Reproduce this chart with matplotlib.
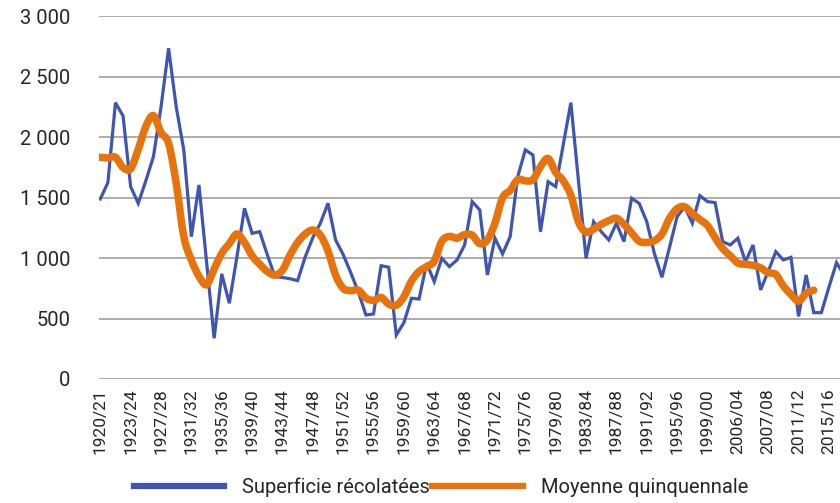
import matplotlib
matplotlib.use("Agg")
import matplotlib.pyplot as plt
import numpy as np
from matplotlib import font_manager
from matplotlib.path import Path
from matplotlib.patches import PathPatch
from matplotlib.lines import Line2D

# ---------------- data ----------------
tick_labels = ["1920/21", "1923/24", "1927/28", "1931/32", "1935/36", "1939/40",
               "1943/44", "1947/48", "1951/52", "1955/56", "1959/60", "1963/64",
               "1967/68", "1971/72", "1975/76", "1979/80", "1983/84", "1987/88",
               "1991/92", "1995/96", "1999/00", "2006/04", "2007/08", "2011/12",
               "2015/16"]

superficie = [1490, 1625, 2287, 2177, 1592, 1454, 1640, 1840, 2250, 2737,
              2254, 1896, 1178, 1606, 970, 337, 870, 627, 1010, 1413,
              1206, 1219, 1030, 847, 840, 830, 814, 1010, 1170, 1290,
              1454, 1151, 1030, 880, 720, 530, 538, 938, 925, 364,
              466, 668, 662, 958, 806, 999, 930, 985, 1109, 1468,
              1399, 861, 1165, 1035, 1178, 1675, 1896, 1854, 1219, 1633,
              1592, 1940, 2287, 1640, 999, 1302, 1219, 1151, 1289, 1137,
              1496, 1454, 1302, 1040, 842, 1090, 1343, 1426, 1289, 1517,
              1468, 1460, 1137, 1109, 1165, 971, 1109, 737, 890, 1054,
              985, 1007, 518, 861, 549, 549, 760, 963, 860]

moyenne = [1835, 1830, 1835, 1750, 1740, 1900, 2090, 2180, 2040, 1950,
           1620, 1180, 985, 850, 780, 910, 1040, 1120, 1200, 1130,
           1020, 950, 890, 860, 900, 1026, 1130, 1200, 1233, 1190,
           1060, 860, 750, 731, 735, 670, 650, 675, 620, 610,
           680, 810, 890, 930, 975, 1140, 1180, 1165, 1195, 1190,
           1120, 1150, 1290, 1500, 1560, 1650, 1640, 1650, 1757, 1825,
           1710, 1640, 1520, 1300, 1215, 1240, 1280, 1310, 1330, 1280,
           1210, 1140, 1130, 1145, 1200, 1330, 1410, 1425, 1370, 1320,
           1270, 1170, 1080, 1020, 960, 950, 940, 920, 880, 865,
           770, 700, 645, 710, 735]

y_ticks = [0, 500, 1000, 1500, 2000, 2500, 3000]
y_tick_labels = ["0", "500", "1 000", "1 500", "2 000", "2 500", "3 000"]

series_names = ["Superficie récolatées", "Moyenne quinquennale"]

# ---------------- style ----------------
names = {f.name for f in font_manager.fontManager.ttflist}
if "Liberation Sans Narrow" in names:
    fam = ["Liberation Sans Narrow", "DejaVu Sans"]
else:
    fam = ["Roboto", "DejaVu Sans"]
plt.rcParams["font.family"] = fam

BLUE = "#3F55B3"
ORANGE = "#E8720C"
GRID = "#A6A6A6"
TEXT = "#262626"

fig = plt.figure(figsize=(8.4, 5.03), dpi=100)
ax = fig.add_axes([99.3 / 840, 1 - 379 / 503, 740.7 / 840, (379 - 16.5) / 503])

x_blue = np.arange(len(superficie))
ax.plot(x_blue, superficie, color=BLUE, lw=2.3, solid_joinstyle="miter", zorder=3)

# smoothed orange line (Catmull-Rom rendered as cubic Bezier path)
xo = np.arange(len(moyenne), dtype=float)
yo = np.array(moyenne, dtype=float)
P = np.column_stack([xo, yo])
Pext = np.vstack([P[0], P, P[-1]])
verts = [tuple(P[0])]
codes = [Path.MOVETO]
for i in range(len(P) - 1):
    p0, p1, p2, p3 = Pext[i], Pext[i + 1], Pext[i + 2], Pext[i + 3]
    c1 = p1 + (p2 - p0) / 6.0
    c2 = p2 - (p3 - p1) / 6.0
    verts += [tuple(c1), tuple(c2), tuple(p2)]
    codes += [Path.CURVE4] * 3
patch = PathPatch(Path(verts, codes), facecolor="none", edgecolor=ORANGE,
                  lw=5.4, capstyle="round", joinstyle="round", zorder=4)
ax.add_patch(patch)

ax.set_xlim(-0.13, 97.46)
ax.set_ylim(0, 3000)
ax.set_yticks(y_ticks)
ax.set_yticklabels(y_tick_labels)
ax.set_xticks(np.arange(0, 4 * len(tick_labels), 4))
ax.set_xticklabels(tick_labels, rotation=90, va="top", ha="center")

ax.tick_params(axis="y", length=0, pad=21, labelsize=14.5, labelcolor=TEXT)
ax.tick_params(axis="x", length=0, pad=6.5, labelsize=12.5, labelcolor=TEXT)
for lab in ax.get_yticklabels():
    lab.set_ha("right")

ax.grid(axis="y", color=GRID, lw=1.3)
ax.set_axisbelow(True)
for s in ax.spines.values():
    s.set_visible(False)

handles = [Line2D([], [], color=BLUE, lw=4.5), Line2D([], [], color=ORANGE, lw=4.5)]
leg = fig.legend(handles, series_names, loc="center", bbox_to_anchor=(441 / 840, 1 - 487 / 503),
                 ncol=2, frameon=False, fontsize=14.5, handlelength=4.5, handletextpad=0.9,
                 columnspacing=0.1, borderaxespad=0)
for t in leg.get_texts():
    t.set_color(TEXT)

fig.savefig("out.png", dpi=100)
